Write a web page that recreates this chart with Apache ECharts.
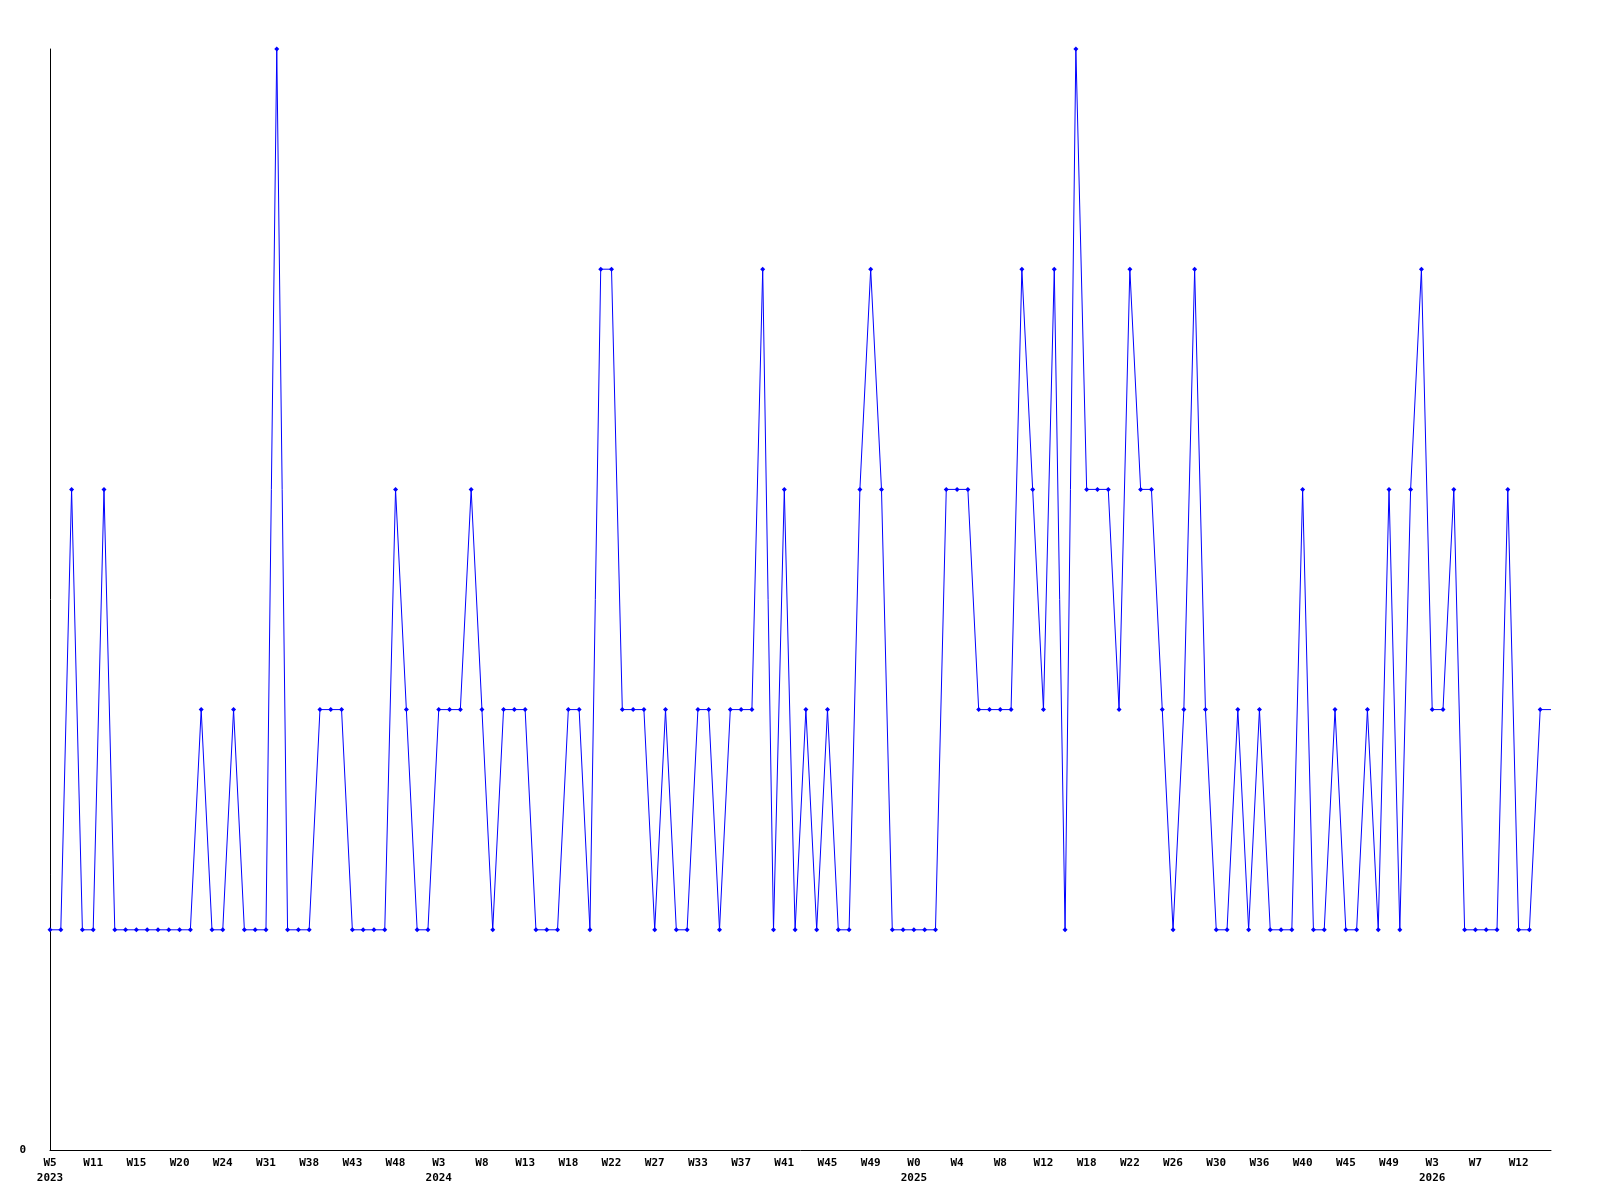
<!DOCTYPE html>
<html>
<head>
<meta charset="utf-8">
<script src="https://cdn.jsdelivr.net/npm/echarts@6/dist/echarts.min.js"></script>
<style>
html,body{margin:0;padding:0;background:#fff;}
#chart{width:1600px;height:1200px;}
</style>
</head>
<body>
<div id="chart"></div>
<script>
// Weekly values (one per plotted point)
const values = [
  1,1,3,1,1,3,1,1,1,1,
  1,1,1,1,2,1,1,2,1,1,
  1,5,1,1,1,2,2,2,1,1,
  1,1,3,2,1,1,2,2,2,3,
  2,1,2,2,2,1,1,1,2,2,
  1,4,4,2,2,2,1,2,1,1,
  2,2,1,2,2,2,4,1,3,1,
  2,1,2,1,1,3,4,3,1,1,
  1,1,1,3,3,3,2,2,2,2,
  4,3,2,4,1,5,3,3,3,2,
  4,3,3,2,1,2,4,2,1,1,
  2,1,2,1,1,1,3,1,1,2,
  1,1,2,1,3,1,3,4,2,2,
  3,1,1,1,1,3,1,1,2,2
];
// Tick labels shown every 4th point
const tickLabels = [
  "W5","W11","W15","W20","W24","W31","W38","W43","W48",
  "W3","W8","W13","W18","W22","W27","W33","W37","W41","W45","W49",
  "W0","W4","W8","W12","W18","W22","W26","W30","W36","W40","W45","W49",
  "W3","W7","W12"
];
// Year labels: [tick index, year]
const yearTickIndex = [0, 9, 20, 32];
const yearLabels = ["2023", "2024", "2025", "2026"];
const tickEvery = 4;

const categories = values.map((v, i) => String(i));

const chart = echarts.init(document.getElementById('chart'), null, {renderer: 'canvas'});
chart.setOption({
  animation: false,
  backgroundColor: '#ffffff',
  grid: {left: 50, right: 49, top: 49, bottom: 50, containLabel: false},
  xAxis: {
    type: 'category',
    data: categories,
    boundaryGap: false,
    axisLine: {show: true, lineStyle: {color: '#000', width: 1}},
    axisTick: {show: false},
    splitLine: {show: false},
    axisLabel: {
      interval: tickEvery - 1,
      margin: 6,
      color: '#000',
      fontFamily: 'DejaVu Sans Mono',
      fontWeight: 'bold',
      fontSize: 11,
      lineHeight: 15,
      formatter: function (val, idx) {
        const t = idx / tickEvery;
        if (idx % tickEvery !== 0 || t >= tickLabels.length) return '';
        const yi = yearTickIndex.indexOf(t);
        return yi >= 0 ? tickLabels[t] + '\n' + yearLabels[yi] : tickLabels[t];
      }
    }
  },
  yAxis: {
    type: 'value',
    min: 0,
    max: 5,
    interval: 1,
    axisLine: {show: true, lineStyle: {color: '#000', width: 1}},
    axisTick: {show: false},
    splitLine: {show: false},
    axisLabel: {
      margin: 24,
      color: '#000',
      fontFamily: 'DejaVu Sans Mono',
      fontWeight: 'bold',
      fontSize: 11,
      formatter: function (v) { return v === 0 ? '0' : ''; }
    }
  },
  series: [{
    type: 'line',
    data: values,
    symbol: function (v, p) { return p.dataIndex === values.length - 1 ? 'none' : 'diamond'; },
    symbolSize: 5,
    showAllSymbol: true,
    lineStyle: {color: '#0000ff', width: 1},
    itemStyle: {color: '#0000ff'},
    emphasis: {disabled: true}
  }]
});
</script>
</body>
</html>
